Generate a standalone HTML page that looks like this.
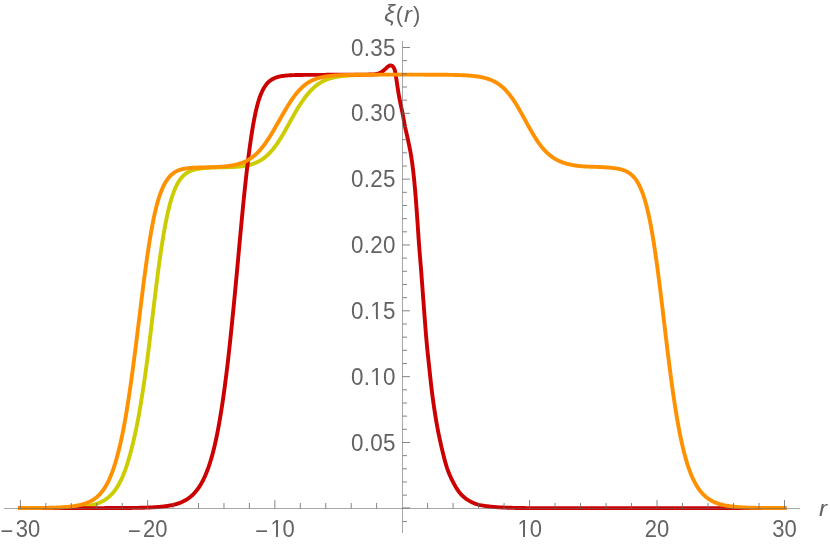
<!DOCTYPE html>
<html><head><meta charset="utf-8"><title>plot</title>
<style>
html,body{margin:0;padding:0;background:#fff;}
svg{display:block;}
text{font-family:"Liberation Sans",sans-serif;font-size:22px;fill:#636363;}
.it{font-style:italic;}
</style></head><body>
<svg width="830" height="544" viewBox="0 0 830 544">
<defs><clipPath id="c0"><path clip-rule="evenodd" d="M-20,-30H59.62V12H-20Z M16.22,-2.44H20.68V1.5H16.22Z M22.62,-2.44H26.96V1.5H22.62Z"/></clipPath><clipPath id="c1"><path clip-rule="evenodd" d="M-20,-30H44.47V12H-20Z M1.07,-2.44H5.53V1.5H1.07Z M7.48,-2.44H11.82V1.5H7.48Z"/></clipPath><clipPath id="c2"><path clip-rule="evenodd" d="M-20,-30H63.72V12H-20Z M20.02,-2.44H24.48V1.5H20.02Z M26.42,-2.44H30.76V1.5H26.42Z"/></clipPath><clipPath id="c3"><path clip-rule="evenodd" d="M-20,-30H63.72V12H-20Z M20.02,-2.44H24.48V1.5H20.02Z M26.42,-2.44H30.76V1.5H26.42Z"/></clipPath></defs>
<rect width="830" height="544" fill="#fff"/>
<g fill="none" stroke-width="3.9" stroke-linejoin="round" stroke-linecap="square">
<path stroke="#cccc00" d="M20.05,508.09 L20.55,508.09 L21.05,508.09 L21.55,508.09 L22.05,508.08 L22.55,508.08 L23.05,508.08 L23.55,508.08 L24.05,508.08 L24.55,508.08 L25.05,508.08 L25.55,508.08 L26.05,508.08 L26.54,508.08 L27.04,508.08 L27.54,508.08 L28.04,508.08 L28.54,508.07 L29.04,508.07 L29.54,508.07 L30.04,508.07 L30.54,508.07 L31.04,508.07 L31.54,508.07 L32.04,508.07 L32.54,508.07 L33.04,508.06 L33.54,508.06 L34.04,508.06 L34.54,508.06 L35.04,508.06 L35.54,508.06 L36.04,508.06 L36.54,508.05 L37.04,508.05 L37.54,508.05 L38.04,508.05 L38.54,508.05 L39.04,508.04 L39.53,508.04 L40.03,508.04 L40.53,508.04 L41.03,508.04 L41.53,508.03 L42.03,508.03 L42.53,508.03 L43.03,508.03 L43.53,508.02 L44.03,508.02 L44.53,508.02 L45.03,508.01 L45.53,508.01 L46.03,508.01 L46.53,508.00 L47.03,508.00 L47.53,508.00 L48.03,507.99 L48.53,507.99 L49.03,507.98 L49.53,507.98 L50.03,507.97 L50.53,507.97 L51.03,507.96 L51.53,507.96 L52.02,507.95 L52.52,507.95 L53.02,507.94 L53.52,507.94 L54.02,507.93 L54.52,507.92 L55.02,507.92 L55.52,507.91 L56.02,507.90 L56.52,507.89 L57.02,507.89 L57.52,507.88 L58.02,507.87 L58.52,507.86 L59.02,507.85 L59.52,507.84 L60.02,507.83 L60.52,507.82 L61.02,507.81 L61.52,507.80 L62.02,507.79 L62.52,507.78 L63.02,507.76 L63.52,507.75 L64.02,507.74 L64.52,507.72 L65.01,507.71 L65.51,507.69 L66.01,507.68 L66.51,507.66 L67.01,507.65 L67.51,507.63 L68.01,507.61 L68.51,507.59 L69.01,507.57 L69.51,507.55 L70.01,507.53 L70.51,507.51 L71.01,507.49 L71.51,507.46 L72.01,507.44 L72.51,507.41 L73.01,507.39 L73.51,507.36 L74.01,507.33 L74.51,507.30 L75.01,507.27 L75.51,507.24 L76.01,507.20 L76.51,507.17 L77.01,507.13 L77.50,507.10 L78.00,507.06 L78.50,507.02 L79.00,506.98 L79.50,506.93 L80.00,506.89 L80.50,506.84 L81.00,506.79 L81.50,506.74 L82.00,506.69 L82.50,506.64 L83.00,506.58 L83.50,506.52 L84.00,506.46 L84.50,506.40 L85.00,506.34 L85.50,506.27 L86.00,506.20 L86.50,506.12 L87.00,506.05 L87.50,505.97 L88.00,505.88 L88.50,505.80 L89.00,505.71 L89.50,505.62 L90.00,505.52 L90.49,505.42 L90.99,505.31 L91.49,505.20 L91.99,505.09 L92.49,504.97 L92.99,504.85 L93.49,504.72 L93.99,504.59 L94.49,504.45 L94.99,504.31 L95.49,504.16 L95.99,504.00 L96.49,503.84 L96.99,503.67 L97.49,503.50 L97.99,503.31 L98.49,503.13 L98.99,502.93 L99.49,502.73 L99.99,502.52 L100.49,502.30 L100.99,502.07 L101.49,501.83 L101.99,501.58 L102.49,501.32 L102.98,501.05 L103.48,500.77 L103.98,500.48 L104.48,500.17 L104.98,499.86 L105.48,499.53 L105.98,499.19 L106.48,498.83 L106.98,498.46 L107.48,498.08 L107.98,497.68 L108.48,497.26 L108.98,496.83 L109.48,496.38 L109.98,495.92 L110.48,495.44 L110.98,494.94 L111.48,494.42 L111.98,493.89 L112.48,493.33 L112.98,492.76 L113.48,492.16 L113.98,491.55 L114.48,490.91 L114.98,490.25 L115.48,489.57 L115.97,488.86 L116.47,488.13 L116.97,487.37 L117.47,486.58 L117.97,485.76 L118.47,484.91 L118.97,484.04 L119.47,483.13 L119.97,482.18 L120.47,481.20 L120.97,480.19 L121.47,479.14 L121.97,478.06 L122.47,476.93 L122.97,475.77 L123.47,474.56 L123.97,473.31 L124.47,472.02 L124.97,470.69 L125.47,469.31 L125.97,467.88 L126.47,466.40 L126.97,464.88 L127.47,463.30 L127.97,461.67 L128.46,460.00 L128.96,458.29 L129.46,456.54 L129.96,454.75 L130.46,452.93 L130.96,451.06 L131.46,449.16 L131.96,447.21 L132.46,445.21 L132.96,443.17 L133.46,441.09 L133.96,438.95 L134.46,436.76 L134.96,434.52 L135.46,432.22 L135.96,429.87 L136.46,427.45 L136.96,424.97 L137.46,422.43 L137.96,419.82 L138.46,417.14 L138.96,414.38 L139.46,411.55 L139.96,408.64 L140.46,405.66 L140.96,402.63 L141.45,399.56 L141.95,396.43 L142.45,393.25 L142.95,390.02 L143.45,386.74 L143.95,383.39 L144.45,379.99 L144.95,376.53 L145.45,373.01 L145.95,369.43 L146.45,365.78 L146.95,362.07 L147.45,358.29 L147.95,354.45 L148.45,350.53 L148.95,346.55 L149.45,342.50 L149.95,338.38 L150.45,334.21 L150.95,330.03 L151.45,325.83 L151.95,321.63 L152.45,317.44 L152.95,313.24 L153.45,309.06 L153.94,304.90 L154.44,300.76 L154.94,296.65 L155.44,292.57 L155.94,288.53 L156.44,284.53 L156.94,280.58 L157.44,276.68 L157.94,272.84 L158.44,269.06 L158.94,265.35 L159.44,261.70 L159.94,258.13 L160.44,254.63 L160.94,251.21 L161.44,247.87 L161.94,244.60 L162.44,241.42 L162.94,238.33 L163.44,235.32 L163.94,232.40 L164.44,229.56 L164.94,226.81 L165.44,224.15 L165.94,221.58 L166.44,219.10 L166.93,216.70 L167.43,214.39 L167.93,212.16 L168.43,210.02 L168.93,207.96 L169.43,205.98 L169.93,204.08 L170.43,202.26 L170.93,200.51 L171.43,198.84 L171.93,197.24 L172.43,195.71 L172.93,194.24 L173.43,192.85 L173.93,191.51 L174.43,190.24 L174.93,189.02 L175.43,187.87 L175.93,186.77 L176.43,185.72 L176.93,184.72 L177.43,183.78 L177.93,182.88 L178.43,182.03 L178.93,181.23 L179.42,180.46 L179.92,179.74 L180.42,179.05 L180.92,178.40 L181.42,177.79 L181.92,177.20 L182.42,176.65 L182.92,176.13 L183.42,175.64 L183.92,175.17 L184.42,174.73 L184.92,174.32 L185.42,173.93 L185.92,173.55 L186.42,173.20 L186.92,172.87 L187.42,172.56 L187.92,172.26 L188.42,171.99 L188.92,171.72 L189.42,171.47 L189.92,171.24 L190.42,171.01 L190.92,170.80 L191.42,170.61 L191.92,170.42 L192.41,170.25 L192.91,170.09 L193.41,169.93 L193.91,169.79 L194.41,169.65 L194.91,169.52 L195.41,169.40 L195.91,169.29 L196.41,169.18 L196.91,169.08 L197.41,168.99 L197.91,168.90 L198.41,168.81 L198.91,168.73 L199.41,168.66 L199.91,168.59 L200.41,168.52 L200.91,168.45 L201.41,168.39 L201.91,168.33 L202.41,168.27 L202.91,168.22 L203.41,168.17 L203.91,168.12 L204.41,168.08 L204.90,168.03 L205.40,167.99 L205.90,167.95 L206.40,167.92 L206.90,167.88 L207.40,167.85 L207.90,167.82 L208.40,167.78 L208.90,167.76 L209.40,167.73 L209.90,167.70 L210.40,167.67 L210.90,167.65 L211.40,167.63 L211.90,167.60 L212.40,167.58 L212.90,167.56 L213.40,167.54 L213.90,167.52 L214.40,167.50 L214.90,167.49 L215.40,167.47 L215.90,167.45 L216.40,167.44 L216.90,167.42 L217.40,167.41 L217.89,167.39 L218.39,167.38 L218.89,167.36 L219.39,167.35 L219.89,167.34 L220.39,167.32 L220.89,167.31 L221.39,167.30 L221.89,167.29 L222.39,167.28 L222.89,167.27 L223.39,167.26 L223.89,167.25 L224.39,167.24 L224.89,167.23 L225.39,167.22 L225.89,167.21 L226.39,167.20 L226.89,167.19 L227.39,167.18 L227.89,167.17 L228.39,167.16 L228.89,167.15 L229.39,167.14 L229.89,167.12 L230.38,167.11 L230.88,167.09 L231.38,167.08 L231.88,167.06 L232.38,167.04 L232.88,167.02 L233.38,167.00 L233.88,166.98 L234.38,166.95 L234.88,166.92 L235.38,166.89 L235.88,166.86 L236.38,166.83 L236.88,166.80 L237.38,166.76 L237.88,166.72 L238.38,166.68 L238.88,166.63 L239.38,166.58 L239.88,166.53 L240.38,166.48 L240.88,166.42 L241.38,166.36 L241.88,166.30 L242.38,166.23 L242.88,166.16 L243.37,166.08 L243.87,166.00 L244.37,165.92 L244.87,165.84 L245.37,165.75 L245.87,165.66 L246.37,165.57 L246.87,165.47 L247.37,165.36 L247.87,165.26 L248.37,165.14 L248.87,165.03 L249.37,164.91 L249.87,164.78 L250.37,164.65 L250.87,164.51 L251.37,164.36 L251.87,164.21 L252.37,164.06 L252.87,163.89 L253.37,163.72 L253.87,163.54 L254.37,163.36 L254.87,163.17 L255.37,162.97 L255.86,162.76 L256.36,162.54 L256.86,162.31 L257.36,162.07 L257.86,161.82 L258.36,161.57 L258.86,161.30 L259.36,161.02 L259.86,160.74 L260.36,160.44 L260.86,160.14 L261.36,159.82 L261.86,159.49 L262.36,159.16 L262.86,158.81 L263.36,158.45 L263.86,158.08 L264.36,157.70 L264.86,157.31 L265.36,156.91 L265.86,156.50 L266.36,156.07 L266.86,155.63 L267.36,155.18 L267.86,154.71 L268.36,154.23 L268.85,153.74 L269.35,153.23 L269.85,152.71 L270.35,152.17 L270.85,151.62 L271.35,151.06 L271.85,150.48 L272.35,149.90 L272.85,149.29 L273.35,148.68 L273.85,148.05 L274.35,147.41 L274.85,146.76 L275.35,146.10 L275.85,145.42 L276.35,144.73 L276.85,144.02 L277.35,143.30 L277.85,142.57 L278.35,141.82 L278.85,141.07 L279.35,140.30 L279.85,139.51 L280.35,138.72 L280.85,137.92 L281.34,137.10 L281.84,136.28 L282.34,135.44 L282.84,134.60 L283.34,133.74 L283.84,132.88 L284.34,132.01 L284.84,131.13 L285.34,130.25 L285.84,129.35 L286.34,128.46 L286.84,127.55 L287.34,126.64 L287.84,125.73 L288.34,124.82 L288.84,123.91 L289.34,123.00 L289.84,122.09 L290.34,121.18 L290.84,120.28 L291.34,119.39 L291.84,118.50 L292.34,117.62 L292.84,116.74 L293.34,115.86 L293.84,114.99 L294.33,114.11 L294.83,113.25 L295.33,112.39 L295.83,111.54 L296.33,110.69 L296.83,109.85 L297.33,109.02 L297.83,108.20 L298.33,107.39 L298.83,106.59 L299.33,105.80 L299.83,105.01 L300.33,104.24 L300.83,103.48 L301.33,102.72 L301.83,101.98 L302.33,101.25 L302.83,100.53 L303.33,99.82 L303.83,99.13 L304.33,98.44 L304.83,97.77 L305.33,97.10 L305.83,96.45 L306.33,95.81 L306.82,95.19 L307.32,94.57 L307.82,93.97 L308.32,93.38 L308.82,92.80 L309.32,92.23 L309.82,91.68 L310.32,91.13 L310.82,90.60 L311.32,90.08 L311.82,89.57 L312.32,89.08 L312.82,88.59 L313.32,88.12 L313.82,87.66 L314.32,87.21 L314.82,86.77 L315.32,86.35 L315.82,85.94 L316.32,85.54 L316.82,85.15 L317.32,84.78 L317.82,84.41 L318.32,84.06 L318.82,83.71 L319.32,83.38 L319.81,83.06 L320.31,82.75 L320.81,82.45 L321.31,82.16 L321.81,81.88 L322.31,81.61 L322.81,81.34 L323.31,81.09 L323.81,80.85 L324.31,80.61 L324.81,80.38 L325.31,80.16 L325.81,79.95 L326.31,79.74 L326.81,79.55 L327.31,79.36 L327.81,79.17 L328.31,79.00 L328.81,78.83 L329.31,78.66 L329.81,78.51 L330.31,78.36 L330.81,78.21 L331.31,78.07 L331.81,77.93 L332.30,77.80 L332.80,77.67 L333.30,77.55 L333.80,77.43 L334.30,77.32 L334.80,77.21 L335.30,77.10 L335.80,77.00 L336.30,76.90 L336.80,76.81 L337.30,76.72 L337.80,76.63 L338.30,76.55 L338.80,76.47 L339.30,76.39 L339.80,76.32 L340.30,76.25 L340.80,76.18 L341.30,76.12 L341.80,76.06 L342.30,76.00 L342.80,75.94 L343.30,75.89 L343.80,75.84 L344.30,75.79 L344.80,75.74 L345.29,75.70 L345.79,75.65 L346.29,75.61 L346.79,75.57 L347.29,75.53 L347.79,75.50 L348.29,75.46 L348.79,75.43 L349.29,75.40 L349.79,75.37 L350.29,75.34 L350.79,75.31 L351.29,75.29 L351.79,75.26 L352.29,75.24 L352.79,75.21 L353.29,75.19 L353.79,75.17 L354.29,75.15 L354.79,75.13 L355.29,75.11 L355.79,75.09 L356.29,75.08 L356.79,75.06 L357.29,75.04 L357.78,75.03 L358.28,75.01 L358.78,75.00 L359.28,74.98 L359.78,74.97"/>
<path stroke="#cc0000" d="M20.05,508.10 L20.55,508.10 L21.05,508.10 L21.55,508.10 L22.05,508.10 L22.55,508.10 L23.05,508.10 L23.55,508.10 L24.05,508.10 L24.55,508.10 L25.05,508.10 L25.55,508.10 L26.05,508.10 L26.54,508.10 L27.04,508.10 L27.54,508.10 L28.04,508.10 L28.54,508.10 L29.04,508.10 L29.54,508.10 L30.04,508.10 L30.54,508.10 L31.04,508.10 L31.54,508.10 L32.04,508.10 L32.54,508.10 L33.04,508.10 L33.54,508.10 L34.04,508.10 L34.54,508.10 L35.04,508.10 L35.54,508.10 L36.04,508.10 L36.54,508.10 L37.04,508.10 L37.54,508.10 L38.04,508.10 L38.54,508.10 L39.04,508.10 L39.53,508.10 L40.03,508.10 L40.53,508.10 L41.03,508.10 L41.53,508.10 L42.03,508.10 L42.53,508.10 L43.03,508.10 L43.53,508.10 L44.03,508.10 L44.53,508.10 L45.03,508.10 L45.53,508.10 L46.03,508.10 L46.53,508.10 L47.03,508.10 L47.53,508.10 L48.03,508.10 L48.53,508.10 L49.03,508.10 L49.53,508.10 L50.03,508.10 L50.53,508.10 L51.03,508.10 L51.53,508.10 L52.02,508.10 L52.52,508.10 L53.02,508.10 L53.52,508.10 L54.02,508.10 L54.52,508.10 L55.02,508.10 L55.52,508.10 L56.02,508.10 L56.52,508.10 L57.02,508.10 L57.52,508.10 L58.02,508.10 L58.52,508.10 L59.02,508.10 L59.52,508.10 L60.02,508.10 L60.52,508.10 L61.02,508.10 L61.52,508.10 L62.02,508.10 L62.52,508.10 L63.02,508.10 L63.52,508.10 L64.02,508.10 L64.52,508.10 L65.01,508.10 L65.51,508.10 L66.01,508.10 L66.51,508.10 L67.01,508.10 L67.51,508.10 L68.01,508.10 L68.51,508.10 L69.01,508.10 L69.51,508.10 L70.01,508.10 L70.51,508.10 L71.01,508.10 L71.51,508.10 L72.01,508.10 L72.51,508.10 L73.01,508.10 L73.51,508.10 L74.01,508.10 L74.51,508.10 L75.01,508.10 L75.51,508.10 L76.01,508.10 L76.51,508.10 L77.01,508.10 L77.50,508.10 L78.00,508.10 L78.50,508.10 L79.00,508.10 L79.50,508.10 L80.00,508.10 L80.50,508.10 L81.00,508.10 L81.50,508.10 L82.00,508.10 L82.50,508.09 L83.00,508.09 L83.50,508.09 L84.00,508.09 L84.50,508.09 L85.00,508.09 L85.50,508.09 L86.00,508.09 L86.50,508.09 L87.00,508.09 L87.50,508.09 L88.00,508.09 L88.50,508.09 L89.00,508.09 L89.50,508.09 L90.00,508.09 L90.49,508.09 L90.99,508.09 L91.49,508.09 L91.99,508.09 L92.49,508.09 L92.99,508.09 L93.49,508.09 L93.99,508.09 L94.49,508.09 L94.99,508.09 L95.49,508.09 L95.99,508.09 L96.49,508.09 L96.99,508.09 L97.49,508.09 L97.99,508.08 L98.49,508.08 L98.99,508.08 L99.49,508.08 L99.99,508.08 L100.49,508.08 L100.99,508.08 L101.49,508.08 L101.99,508.08 L102.49,508.08 L102.98,508.08 L103.48,508.08 L103.98,508.08 L104.48,508.08 L104.98,508.07 L105.48,508.07 L105.98,508.07 L106.48,508.07 L106.98,508.07 L107.48,508.07 L107.98,508.07 L108.48,508.07 L108.98,508.07 L109.48,508.07 L109.98,508.06 L110.48,508.06 L110.98,508.06 L111.48,508.06 L111.98,508.06 L112.48,508.06 L112.98,508.06 L113.48,508.05 L113.98,508.05 L114.48,508.05 L114.98,508.05 L115.48,508.05 L115.97,508.04 L116.47,508.04 L116.97,508.04 L117.47,508.04 L117.97,508.04 L118.47,508.03 L118.97,508.03 L119.47,508.03 L119.97,508.03 L120.47,508.02 L120.97,508.02 L121.47,508.02 L121.97,508.02 L122.47,508.01 L122.97,508.01 L123.47,508.01 L123.97,508.00 L124.47,508.00 L124.97,507.99 L125.47,507.99 L125.97,507.99 L126.47,507.98 L126.97,507.98 L127.47,507.97 L127.97,507.97 L128.46,507.97 L128.96,507.96 L129.46,507.96 L129.96,507.95 L130.46,507.94 L130.96,507.94 L131.46,507.93 L131.96,507.93 L132.46,507.92 L132.96,507.91 L133.46,507.91 L133.96,507.90 L134.46,507.89 L134.96,507.89 L135.46,507.88 L135.96,507.87 L136.46,507.86 L136.96,507.85 L137.46,507.84 L137.96,507.84 L138.46,507.83 L138.96,507.82 L139.46,507.81 L139.96,507.80 L140.46,507.78 L140.96,507.77 L141.45,507.76 L141.95,507.75 L142.45,507.74 L142.95,507.72 L143.45,507.71 L143.95,507.70 L144.45,507.68 L144.95,507.67 L145.45,507.65 L145.95,507.63 L146.45,507.62 L146.95,507.60 L147.45,507.58 L147.95,507.56 L148.45,507.54 L148.95,507.52 L149.45,507.50 L149.95,507.48 L150.45,507.46 L150.95,507.43 L151.45,507.41 L151.95,507.39 L152.45,507.36 L152.95,507.33 L153.45,507.31 L153.94,507.28 L154.44,507.25 L154.94,507.22 L155.44,507.18 L155.94,507.15 L156.44,507.12 L156.94,507.08 L157.44,507.04 L157.94,507.01 L158.44,506.97 L158.94,506.93 L159.44,506.88 L159.94,506.84 L160.44,506.79 L160.94,506.75 L161.44,506.70 L161.94,506.65 L162.44,506.59 L162.94,506.54 L163.44,506.48 L163.94,506.43 L164.44,506.36 L164.94,506.30 L165.44,506.24 L165.94,506.17 L166.44,506.10 L166.93,506.03 L167.43,505.95 L167.93,505.88 L168.43,505.79 L168.93,505.71 L169.43,505.63 L169.93,505.54 L170.43,505.44 L170.93,505.35 L171.43,505.25 L171.93,505.14 L172.43,505.04 L172.93,504.92 L173.43,504.81 L173.93,504.69 L174.43,504.56 L174.93,504.43 L175.43,504.30 L175.93,504.16 L176.43,504.01 L176.93,503.86 L177.43,503.71 L177.93,503.55 L178.43,503.38 L178.93,503.21 L179.42,503.02 L179.92,502.84 L180.42,502.64 L180.92,502.44 L181.42,502.23 L181.92,502.01 L182.42,501.79 L182.92,501.56 L183.42,501.31 L183.92,501.06 L184.42,500.80 L184.92,500.53 L185.42,500.25 L185.92,499.96 L186.42,499.66 L186.92,499.35 L187.42,499.02 L187.92,498.69 L188.42,498.34 L188.92,497.98 L189.42,497.60 L189.92,497.21 L190.42,496.81 L190.92,496.40 L191.42,495.96 L191.92,495.52 L192.41,495.05 L192.91,494.57 L193.41,494.08 L193.91,493.56 L194.41,493.03 L194.91,492.48 L195.41,491.91 L195.91,491.32 L196.41,490.71 L196.91,490.07 L197.41,489.42 L197.91,488.74 L198.41,488.04 L198.91,487.31 L199.41,486.56 L199.91,485.78 L200.41,484.98 L200.91,484.15 L201.41,483.29 L201.91,482.40 L202.41,481.48 L202.91,480.52 L203.41,479.53 L203.91,478.51 L204.41,477.45 L204.90,476.36 L205.40,475.22 L205.90,474.05 L206.40,472.84 L206.90,471.58 L207.40,470.28 L207.90,468.94 L208.40,467.55 L208.90,466.11 L209.40,464.62 L209.90,463.08 L210.40,461.49 L210.90,459.85 L211.40,458.15 L211.90,456.39 L212.40,454.57 L212.90,452.70 L213.40,450.76 L213.90,448.75 L214.40,446.68 L214.90,444.55 L215.40,442.34 L215.90,440.06 L216.40,437.71 L216.90,435.28 L217.40,432.77 L217.89,430.19 L218.39,427.53 L218.89,424.79 L219.39,421.98 L219.89,419.09 L220.39,416.12 L220.89,413.08 L221.39,409.95 L221.89,406.74 L222.39,403.44 L222.89,400.07 L223.39,396.60 L223.89,393.05 L224.39,389.41 L224.89,385.68 L225.39,381.87 L225.89,377.96 L226.39,373.96 L226.89,369.87 L227.39,365.69 L227.89,361.42 L228.39,357.06 L228.89,352.61 L229.39,348.07 L229.89,343.44 L230.38,338.74 L230.88,333.97 L231.38,329.14 L231.88,324.25 L232.38,319.30 L232.88,314.30 L233.38,309.24 L233.88,304.13 L234.38,298.97 L234.88,293.76 L235.38,288.49 L235.88,283.19 L236.38,277.84 L236.88,272.45 L237.38,267.03 L237.88,261.58 L238.38,256.11 L238.88,250.64 L239.38,245.20 L239.88,239.78 L240.38,234.39 L240.88,229.05 L241.38,223.74 L241.88,218.49 L242.38,213.30 L242.88,208.18 L243.37,203.13 L243.87,198.15 L244.37,193.26 L244.87,188.46 L245.37,183.75 L245.87,179.14 L246.37,174.64 L246.87,170.24 L247.37,165.95 L247.87,161.78 L248.37,157.72 L248.87,153.78 L249.37,149.96 L249.87,146.26 L250.37,142.68 L250.87,139.22 L251.37,135.87 L251.87,132.65 L252.37,129.55 L252.87,126.57 L253.37,123.71 L253.87,120.98 L254.37,118.36 L254.87,115.87 L255.37,113.50 L255.86,111.24 L256.36,109.09 L256.86,107.06 L257.36,105.13 L257.86,103.31 L258.36,101.58 L258.86,99.96 L259.36,98.42 L259.86,96.97 L260.36,95.61 L260.86,94.33 L261.36,93.13 L261.86,92.00 L262.36,90.94 L262.86,89.94 L263.36,89.00 L263.86,88.11 L264.36,87.28 L264.86,86.50 L265.36,85.76 L265.86,85.07 L266.36,84.42 L266.86,83.82 L267.36,83.24 L267.86,82.71 L268.36,82.21 L268.85,81.74 L269.35,81.30 L269.85,80.89 L270.35,80.50 L270.85,80.14 L271.35,79.80 L271.85,79.49 L272.35,79.19 L272.85,78.92 L273.35,78.66 L273.85,78.42 L274.35,78.19 L274.85,77.98 L275.35,77.78 L275.85,77.60 L276.35,77.43 L276.85,77.26 L277.35,77.11 L277.85,76.97 L278.35,76.84 L278.85,76.71 L279.35,76.59 L279.85,76.48 L280.35,76.38 L280.85,76.28 L281.34,76.19 L281.84,76.11 L282.34,76.03 L282.84,75.95 L283.34,75.88 L283.84,75.82 L284.34,75.76 L284.84,75.70 L285.34,75.64 L285.84,75.59 L286.34,75.55 L286.84,75.50 L287.34,75.46 L287.84,75.42 L288.34,75.39 L288.84,75.35 L289.34,75.32 L289.84,75.29 L290.34,75.26 L290.84,75.24 L291.34,75.21 L291.84,75.19 L292.34,75.17 L292.84,75.15 L293.34,75.13 L293.84,75.11 L294.33,75.09 L294.83,75.08 L295.33,75.06 L295.83,75.05 L296.33,75.04 L296.83,75.03 L297.33,75.01 L297.83,75.00 L298.33,74.99 L298.83,74.99 L299.33,74.98 L299.83,74.97 L300.33,74.96 L300.83,74.95 L301.33,74.95 L301.83,74.94 L302.33,74.94 L302.83,74.93 L303.33,74.92 L303.83,74.92 L304.33,74.92 L304.83,74.91 L305.33,74.91 L305.83,74.90 L306.33,74.90 L306.82,74.90 L307.32,74.89 L307.82,74.89 L308.32,74.89 L308.82,74.89 L309.32,74.88 L309.82,74.88 L310.32,74.88 L310.82,74.88 L311.32,74.88 L311.82,74.87 L312.32,74.87 L312.82,74.87 L313.32,74.87 L313.82,74.87 L314.32,74.87 L314.82,74.87 L315.32,74.87 L315.82,74.86 L316.32,74.86 L316.82,74.86 L317.32,74.86 L317.82,74.86 L318.32,74.86 L318.82,74.86 L319.32,74.86 L319.81,74.86 L320.31,74.86 L320.81,74.86 L321.31,74.86 L321.81,74.85 L322.31,74.85 L322.81,74.85 L323.31,74.84 L323.81,74.84 L324.31,74.84 L324.81,74.83 L325.31,74.83 L325.81,74.82 L326.31,74.81 L326.81,74.81 L327.31,74.80 L327.81,74.80 L328.31,74.79 L328.81,74.78 L329.31,74.77 L329.81,74.77 L330.31,74.76 L330.81,74.75 L331.31,74.74 L331.81,74.74 L332.30,74.73 L332.80,74.72 L333.30,74.71 L333.80,74.71 L334.30,74.70 L334.80,74.69 L335.30,74.68 L335.80,74.68 L336.30,74.67 L336.80,74.66 L337.30,74.66 L337.80,74.65 L338.30,74.64 L338.80,74.64 L339.30,74.63 L339.80,74.63 L340.30,74.62 L340.80,74.62 L341.30,74.62 L341.80,74.61 L342.30,74.61 L342.80,74.61 L343.30,74.60 L343.80,74.60 L344.30,74.60 L344.80,74.60 L345.29,74.60 L345.79,74.60 L346.29,74.60 L346.79,74.60 L347.29,74.60 L347.79,74.60 L348.29,74.60 L348.79,74.60 L349.29,74.60 L349.79,74.60 L350.29,74.60 L350.79,74.60 L351.29,74.60 L351.79,74.60 L352.29,74.60 L352.79,74.60 L353.29,74.60 L353.79,74.60 L354.29,74.60 L354.79,74.60 L355.29,74.60 L355.79,74.60 L356.29,74.60 L356.79,74.60 L357.29,74.60 L357.78,74.60 L358.28,74.60 L358.78,74.60 L359.28,74.60 L359.78,74.60 L360.28,74.60 L360.78,74.60 L361.28,74.60 L361.78,74.60 L362.28,74.60 L362.78,74.60 L363.28,74.60 L363.78,74.60 L364.28,74.60 L364.78,74.60 L365.28,74.60 L365.78,74.60 L366.00,74.60 L367.42,74.59 L368.85,74.56 L370.27,74.52 L371.69,74.47 L373.12,74.38 L374.54,74.25 L375.94,74.06 L377.36,73.76 L378.74,73.35 L380.05,72.88 L381.27,72.25 L382.44,71.42 L383.56,70.49 L384.68,69.56 L385.77,68.62 L386.81,67.55 L387.87,66.57 L389.03,65.89 L390.43,65.46 L391.75,65.60 L392.96,66.56 L393.79,67.65 L394.38,68.94 L394.83,70.36 L395.18,71.74 L395.46,73.12 L395.70,74.52 L395.91,75.94 L396.11,77.36 L396.31,78.78 L396.53,80.19 L396.75,81.59 L396.96,83.00 L397.17,84.41 L397.38,85.82 L397.58,87.23 L397.79,88.64 L398.00,90.04 L398.22,91.45 L398.44,92.86 L398.67,94.26 L398.92,95.66 L399.18,97.06 L399.45,98.46 L399.73,99.85 L400.02,101.25 L400.31,102.64 L400.60,104.03 L400.89,105.43 L401.18,106.82 L401.49,108.21 L401.79,109.60 L402.09,111.00 L402.38,112.39 L402.65,113.78 L402.92,115.18 L403.18,116.58 L403.43,117.98 L403.68,119.39 L403.92,120.79 L404.18,122.19 L404.43,123.59 L404.70,124.99 L404.98,126.38 L405.27,127.78 L405.57,129.17 L405.88,130.56 L406.19,131.95 L406.51,133.33 L406.83,134.72 L407.15,136.11 L407.46,137.50 L407.76,138.89 L408.06,140.28 L408.35,141.67 L408.65,143.07 L408.95,144.46 L409.24,145.85 L409.53,147.25 L409.82,148.64 L410.10,150.04 L410.37,151.44 L410.63,152.84 L410.87,154.24 L411.10,155.64 L411.33,157.04 L411.54,158.45 L411.75,159.86 L411.96,161.27 L412.16,162.68 L412.35,164.09 L412.53,165.50 L412.71,166.92 L412.89,168.33 L413.06,169.74 L413.22,171.15 L413.38,172.57 L413.54,173.98 L413.69,175.40 L413.84,176.81 L413.99,178.23 L414.13,179.65 L414.27,181.06 L414.41,182.48 L414.54,183.90 L414.67,185.32 L414.80,186.73 L414.93,188.15 L415.05,189.57 L415.18,190.99 L415.30,192.41 L415.42,193.82 L415.53,195.24 L415.65,196.66 L415.76,198.08 L415.87,199.50 L415.98,200.92 L416.09,202.34 L416.19,203.76 L416.30,205.18 L416.40,206.60 L416.51,208.02 L416.61,209.44 L416.71,210.86 L416.82,212.28 L416.92,213.70 L417.02,215.12 L417.12,216.54 L417.23,217.96 L417.33,219.38 L417.42,220.80 L417.52,222.22 L417.62,223.64 L417.71,225.06 L417.81,226.48 L417.90,227.90 L417.99,229.32 L418.09,230.74 L418.18,232.16 L418.27,233.58 L418.37,235.00 L418.47,236.42 L418.56,237.84 L418.66,239.26 L418.76,240.68 L418.86,242.10 L418.96,243.52 L419.07,244.94 L419.18,246.36 L419.29,247.78 L419.40,249.20 L419.51,250.62 L419.63,252.04 L419.74,253.46 L419.86,254.87 L419.98,256.29 L420.09,257.71 L420.21,259.13 L420.33,260.55 L420.44,261.97 L420.56,263.39 L420.68,264.81 L420.79,266.22 L420.91,267.64 L421.02,269.06 L421.13,270.48 L421.24,271.90 L421.35,273.32 L421.46,274.74 L421.56,276.16 L421.67,277.58 L421.78,279.00 L421.88,280.42 L421.99,281.84 L422.09,283.26 L422.20,284.68 L422.30,286.10 L422.41,287.52 L422.51,288.94 L422.62,290.35 L422.72,291.77 L422.83,293.19 L422.93,294.61 L423.03,296.03 L423.14,297.45 L423.24,298.87 L423.35,300.29 L423.46,301.71 L423.56,303.13 L423.67,304.55 L423.78,305.97 L423.88,307.39 L423.99,308.81 L424.10,310.23 L424.21,311.65 L424.32,313.07 L424.43,314.49 L424.54,315.91 L424.64,317.33 L424.75,318.75 L424.86,320.16 L424.97,321.58 L425.08,323.00 L425.18,324.42 L425.29,325.84 L425.40,327.26 L425.51,328.68 L425.63,330.10 L425.74,331.52 L425.85,332.94 L425.97,334.36 L426.09,335.78 L426.20,337.19 L426.32,338.61 L426.45,340.03 L426.57,341.45 L426.70,342.87 L426.83,344.28 L426.96,345.70 L427.09,347.12 L427.23,348.53 L427.37,349.95 L427.52,351.37 L427.66,352.78 L427.81,354.20 L427.96,355.61 L428.11,357.03 L428.27,358.45 L428.42,359.86 L428.58,361.28 L428.73,362.69 L428.88,364.11 L429.04,365.52 L429.19,366.94 L429.34,368.35 L429.49,369.77 L429.65,371.18 L429.80,372.60 L429.95,374.02 L430.10,375.43 L430.25,376.85 L430.41,378.26 L430.56,379.68 L430.71,381.09 L430.87,382.51 L431.03,383.92 L431.19,385.34 L431.35,386.75 L431.52,388.17 L431.68,389.58 L431.86,390.99 L432.03,392.40 L432.21,393.82 L432.39,395.23 L432.57,396.64 L432.76,398.05 L432.95,399.46 L433.14,400.87 L433.34,402.28 L433.54,403.69 L433.74,405.10 L433.95,406.51 L434.15,407.92 L434.37,409.33 L434.58,410.73 L434.80,412.14 L435.02,413.55 L435.24,414.96 L435.47,416.36 L435.70,417.77 L435.93,419.17 L436.17,420.57 L436.41,421.98 L436.66,423.38 L436.90,424.78 L437.15,426.18 L437.41,427.58 L437.67,428.98 L437.93,430.38 L438.20,431.77 L438.48,433.17 L438.76,434.57 L439.05,435.96 L439.35,437.35 L439.65,438.75 L439.95,440.14 L440.26,441.53 L440.57,442.92 L440.88,444.31 L441.20,445.70 L441.53,447.08 L441.85,448.47 L442.18,449.85 L442.51,451.23 L442.85,452.62 L443.18,454.01 L443.52,455.40 L443.86,456.78 L444.22,458.17 L444.58,459.55 L444.94,460.92 L445.32,462.30 L445.72,463.67 L446.12,465.03 L446.54,466.38 L446.98,467.73 L447.43,469.07 L447.91,470.40 L448.41,471.74 L448.94,473.07 L449.48,474.39 L450.05,475.71 L450.63,477.01 L451.23,478.31 L451.84,479.60 L452.47,480.87 L453.11,482.13 L453.77,483.39 L454.45,484.65 L455.15,485.91 L455.88,487.16 L456.63,488.40 L457.41,489.60 L458.21,490.78 L459.05,491.91 L459.92,492.99 L460.84,494.04 L461.82,495.07 L462.85,496.08 L463.93,497.06 L465.05,497.99 L466.19,498.86 L467.36,499.67 L468.54,500.40 L469.75,501.10 L471.01,501.78 L472.31,502.42 L473.63,503.02 L474.97,503.57 L476.32,504.05 L477.67,504.46 L479.03,504.80 L480.40,505.11 L481.79,505.39 L483.20,505.65 L484.61,505.88 L486.03,506.09 L487.45,506.29 L488.87,506.46 L490.29,506.61 L491.70,506.75 L493.12,506.88 L494.54,507.01 L495.96,507.12 L497.38,507.23 L498.80,507.33 L500.22,507.42 L501.64,507.50 L503.07,507.56 L504.49,507.61 L505.91,507.65 L507.33,507.70 L508.75,507.74 L510.18,507.78 L511.60,507.82 L513.02,507.86 L514.45,507.89 L515.87,507.93 L517.29,507.96 L518.72,507.99 L520.14,508.01 L521.56,508.03 L522.99,508.05 L524.41,508.07 L525.84,508.08 L527.26,508.09 L528.68,508.10 L530.11,508.10 L531.53,508.10 L532.95,508.10 L534.38,508.10 L535.80,508.10 L537.22,508.10 L538.65,508.10 L540.07,508.10 L541.49,508.10 L542.92,508.10 L544.34,508.10 L545.76,508.10 L547.19,508.10 L548.61,508.10 L550.03,508.10 L551.46,508.10 L552.88,508.10 L554.31,508.10 L555.73,508.10 L557.15,508.10 L558.58,508.10 L560.00,508.10 L561.00,508.10 L565.56,508.10 L570.12,508.10 L574.68,508.10 L579.24,508.10 L583.80,508.10 L588.36,508.10 L592.92,508.10 L597.48,508.10 L602.04,508.10 L606.60,508.10 L611.16,508.10 L615.72,508.10 L620.28,508.10 L624.84,508.10 L629.40,508.10 L633.96,508.10 L638.52,508.10 L643.08,508.10 L647.64,508.10 L652.20,508.10 L656.76,508.10 L661.32,508.10 L665.88,508.10 L670.44,508.10 L675.01,508.10 L679.57,508.10 L684.13,508.10 L688.69,508.10 L693.25,508.10 L697.81,508.10 L702.37,508.10 L706.93,508.10 L711.49,508.10 L716.05,508.10 L720.61,508.10 L725.17,508.10 L729.73,508.10 L734.29,508.10 L738.85,508.10 L743.41,508.10 L747.97,508.10 L752.53,508.10 L757.09,508.10 L761.65,508.10 L766.21,508.10 L770.77,508.10 L775.33,508.10 L779.89,508.10 L784.45,508.10"/>
<path stroke="#ff9100" d="M20.05,508.07 L20.55,508.06 L21.05,508.06 L21.55,508.06 L22.05,508.06 L22.55,508.06 L23.05,508.06 L23.55,508.05 L24.05,508.05 L24.55,508.05 L25.05,508.05 L25.55,508.05 L26.05,508.05 L26.54,508.04 L27.04,508.04 L27.54,508.04 L28.04,508.04 L28.54,508.03 L29.04,508.03 L29.54,508.03 L30.04,508.03 L30.54,508.02 L31.04,508.02 L31.54,508.02 L32.04,508.01 L32.54,508.01 L33.04,508.01 L33.54,508.00 L34.04,508.00 L34.54,508.00 L35.04,507.99 L35.54,507.99 L36.04,507.98 L36.54,507.98 L37.04,507.98 L37.54,507.97 L38.04,507.97 L38.54,507.96 L39.04,507.96 L39.53,507.95 L40.03,507.94 L40.53,507.94 L41.03,507.93 L41.53,507.93 L42.03,507.92 L42.53,507.91 L43.03,507.90 L43.53,507.90 L44.03,507.89 L44.53,507.88 L45.03,507.87 L45.53,507.86 L46.03,507.86 L46.53,507.85 L47.03,507.84 L47.53,507.83 L48.03,507.82 L48.53,507.81 L49.03,507.79 L49.53,507.78 L50.03,507.77 L50.53,507.76 L51.03,507.74 L51.53,507.73 L52.02,507.72 L52.52,507.70 L53.02,507.69 L53.52,507.67 L54.02,507.65 L54.52,507.64 L55.02,507.62 L55.52,507.60 L56.02,507.58 L56.52,507.56 L57.02,507.54 L57.52,507.52 L58.02,507.50 L58.52,507.48 L59.02,507.45 L59.52,507.43 L60.02,507.40 L60.52,507.38 L61.02,507.35 L61.52,507.32 L62.02,507.29 L62.52,507.26 L63.02,507.23 L63.52,507.19 L64.02,507.16 L64.52,507.12 L65.01,507.09 L65.51,507.05 L66.01,507.01 L66.51,506.96 L67.01,506.92 L67.51,506.88 L68.01,506.83 L68.51,506.78 L69.01,506.73 L69.51,506.68 L70.01,506.62 L70.51,506.57 L71.01,506.51 L71.51,506.45 L72.01,506.39 L72.51,506.32 L73.01,506.25 L73.51,506.18 L74.01,506.11 L74.51,506.03 L75.01,505.95 L75.51,505.87 L76.01,505.79 L76.51,505.70 L77.01,505.61 L77.50,505.51 L78.00,505.41 L78.50,505.31 L79.00,505.21 L79.50,505.10 L80.00,504.98 L80.50,504.86 L81.00,504.74 L81.50,504.61 L82.00,504.48 L82.50,504.34 L83.00,504.20 L83.50,504.05 L84.00,503.89 L84.50,503.73 L85.00,503.57 L85.50,503.39 L86.00,503.21 L86.50,503.03 L87.00,502.84 L87.50,502.64 L88.00,502.43 L88.50,502.21 L89.00,501.99 L89.50,501.75 L90.00,501.51 L90.49,501.26 L90.99,501.00 L91.49,500.73 L91.99,500.44 L92.49,500.15 L92.99,499.84 L93.49,499.52 L93.99,499.19 L94.49,498.84 L94.99,498.48 L95.49,498.11 L95.99,497.72 L96.49,497.31 L96.99,496.89 L97.49,496.45 L97.99,495.99 L98.49,495.52 L98.99,495.03 L99.49,494.51 L99.99,493.98 L100.49,493.43 L100.99,492.85 L101.49,492.25 L101.99,491.63 L102.49,490.99 L102.98,490.32 L103.48,489.63 L103.98,488.91 L104.48,488.17 L104.98,487.39 L105.48,486.59 L105.98,485.75 L106.48,484.88 L106.98,483.98 L107.48,483.04 L107.98,482.06 L108.48,481.04 L108.98,479.99 L109.48,478.89 L109.98,477.76 L110.48,476.58 L110.98,475.36 L111.48,474.10 L111.98,472.79 L112.48,471.44 L112.98,470.04 L113.48,468.59 L113.98,467.10 L114.48,465.56 L114.98,463.97 L115.48,462.34 L115.97,460.66 L116.47,458.92 L116.97,457.15 L117.47,455.32 L117.97,453.43 L118.47,451.50 L118.97,449.50 L119.47,447.45 L119.97,445.34 L120.47,443.17 L120.97,440.94 L121.47,438.64 L121.97,436.29 L122.47,433.86 L122.97,431.38 L123.47,428.83 L123.97,426.21 L124.47,423.52 L124.97,420.77 L125.47,417.95 L125.97,415.06 L126.47,412.10 L126.97,409.07 L127.47,405.96 L127.97,402.79 L128.46,399.56 L128.96,396.26 L129.46,392.90 L129.96,389.49 L130.46,386.02 L130.96,382.50 L131.46,378.93 L131.96,375.30 L132.46,371.62 L132.96,367.90 L133.46,364.13 L133.96,360.31 L134.46,356.46 L134.96,352.57 L135.46,348.64 L135.96,344.69 L136.46,340.70 L136.96,336.69 L137.46,332.66 L137.96,328.61 L138.46,324.54 L138.96,320.47 L139.46,316.39 L139.96,312.31 L140.46,308.24 L140.96,304.19 L141.45,300.16 L141.95,296.16 L142.45,292.20 L142.95,288.27 L143.45,284.38 L143.95,280.54 L144.45,276.74 L144.95,272.99 L145.45,269.30 L145.95,265.66 L146.45,262.08 L146.95,258.56 L147.45,255.11 L147.95,251.73 L148.45,248.42 L148.95,245.17 L149.45,242.00 L149.95,238.90 L150.45,235.89 L150.95,232.96 L151.45,230.12 L151.95,227.37 L152.45,224.70 L152.95,222.13 L153.45,219.64 L153.94,217.23 L154.44,214.92 L154.94,212.69 L155.44,210.54 L155.94,208.48 L156.44,206.49 L156.94,204.59 L157.44,202.76 L157.94,201.01 L158.44,199.33 L158.94,197.72 L159.44,196.18 L159.94,194.71 L160.44,193.31 L160.94,191.96 L161.44,190.68 L161.94,189.46 L162.44,188.29 L162.94,187.18 L163.44,186.12 L163.94,185.11 L164.44,184.15 L164.94,183.24 L165.44,182.37 L165.94,181.54 L166.44,180.76 L166.93,180.01 L167.43,179.30 L167.93,178.63 L168.43,177.99 L168.93,177.38 L169.43,176.80 L169.93,176.26 L170.43,175.74 L170.93,175.25 L171.43,174.78 L171.93,174.34 L172.43,173.92 L172.93,173.52 L173.43,173.14 L173.93,172.79 L174.43,172.45 L174.93,172.13 L175.43,171.83 L175.93,171.54 L176.43,171.27 L176.93,171.02 L177.43,170.79 L177.93,170.57 L178.43,170.36 L178.93,170.17 L179.42,169.99 L179.92,169.82 L180.42,169.66 L180.92,169.51 L181.42,169.37 L181.92,169.24 L182.42,169.12 L182.92,169.01 L183.42,168.90 L183.92,168.80 L184.42,168.71 L184.92,168.63 L185.42,168.55 L185.92,168.47 L186.42,168.40 L186.92,168.34 L187.42,168.27 L187.92,168.22 L188.42,168.16 L188.92,168.11 L189.42,168.06 L189.92,168.01 L190.42,167.97 L190.92,167.93 L191.42,167.89 L191.92,167.85 L192.41,167.82 L192.91,167.78 L193.41,167.75 L193.91,167.73 L194.41,167.70 L194.91,167.68 L195.41,167.65 L195.91,167.63 L196.41,167.61 L196.91,167.59 L197.41,167.58 L197.91,167.56 L198.41,167.54 L198.91,167.53 L199.41,167.51 L199.91,167.49 L200.41,167.48 L200.91,167.47 L201.41,167.45 L201.91,167.44 L202.41,167.43 L202.91,167.41 L203.41,167.40 L203.91,167.39 L204.41,167.38 L204.90,167.36 L205.40,167.35 L205.90,167.34 L206.40,167.33 L206.90,167.32 L207.40,167.30 L207.90,167.29 L208.40,167.28 L208.90,167.26 L209.40,167.25 L209.90,167.24 L210.40,167.22 L210.90,167.21 L211.40,167.19 L211.90,167.17 L212.40,167.16 L212.90,167.14 L213.40,167.12 L213.90,167.10 L214.40,167.08 L214.90,167.06 L215.40,167.04 L215.90,167.02 L216.40,166.99 L216.90,166.97 L217.40,166.94 L217.89,166.92 L218.39,166.89 L218.89,166.86 L219.39,166.83 L219.89,166.80 L220.39,166.76 L220.89,166.73 L221.39,166.69 L221.89,166.66 L222.39,166.62 L222.89,166.58 L223.39,166.53 L223.89,166.49 L224.39,166.44 L224.89,166.40 L225.39,166.35 L225.89,166.30 L226.39,166.24 L226.89,166.19 L227.39,166.13 L227.89,166.07 L228.39,166.00 L228.89,165.94 L229.39,165.87 L229.89,165.80 L230.38,165.72 L230.88,165.65 L231.38,165.57 L231.88,165.48 L232.38,165.39 L232.88,165.30 L233.38,165.21 L233.88,165.11 L234.38,165.01 L234.88,164.90 L235.38,164.79 L235.88,164.68 L236.38,164.56 L236.88,164.43 L237.38,164.31 L237.88,164.17 L238.38,164.03 L238.88,163.89 L239.38,163.74 L239.88,163.58 L240.38,163.42 L240.88,163.25 L241.38,163.08 L241.88,162.90 L242.38,162.71 L242.88,162.52 L243.37,162.32 L243.87,162.11 L244.37,161.89 L244.87,161.67 L245.37,161.43 L245.87,161.19 L246.37,160.94 L246.87,160.68 L247.37,160.40 L247.87,160.12 L248.37,159.84 L248.87,159.54 L249.37,159.23 L249.87,158.91 L250.37,158.58 L250.87,158.24 L251.37,157.89 L251.87,157.53 L252.37,157.16 L252.87,156.78 L253.37,156.39 L253.87,155.99 L254.37,155.58 L254.87,155.16 L255.37,154.72 L255.86,154.28 L256.36,153.81 L256.86,153.34 L257.36,152.85 L257.86,152.35 L258.36,151.83 L258.86,151.30 L259.36,150.76 L259.86,150.20 L260.36,149.64 L260.86,149.05 L261.36,148.46 L261.86,147.85 L262.36,147.24 L262.86,146.61 L263.36,145.96 L263.86,145.31 L264.36,144.64 L264.86,143.97 L265.36,143.28 L265.86,142.58 L266.36,141.87 L266.86,141.15 L267.36,140.41 L267.86,139.66 L268.36,138.90 L268.85,138.13 L269.35,137.35 L269.85,136.56 L270.35,135.76 L270.85,134.95 L271.35,134.13 L271.85,133.31 L272.35,132.47 L272.85,131.63 L273.35,130.78 L273.85,129.93 L274.35,129.07 L274.85,128.21 L275.35,127.34 L275.85,126.46 L276.35,125.59 L276.85,124.71 L277.35,123.83 L277.85,122.95 L278.35,122.06 L278.85,121.18 L279.35,120.30 L279.85,119.43 L280.35,118.55 L280.85,117.68 L281.34,116.81 L281.84,115.94 L282.34,115.07 L282.84,114.21 L283.34,113.36 L283.84,112.50 L284.34,111.66 L284.84,110.81 L285.34,109.97 L285.84,109.14 L286.34,108.31 L286.84,107.48 L287.34,106.67 L287.84,105.85 L288.34,105.05 L288.84,104.25 L289.34,103.45 L289.84,102.67 L290.34,101.89 L290.84,101.12 L291.34,100.36 L291.84,99.62 L292.34,98.89 L292.84,98.17 L293.34,97.47 L293.84,96.78 L294.33,96.10 L294.83,95.43 L295.33,94.78 L295.83,94.15 L296.33,93.53 L296.83,92.92 L297.33,92.32 L297.83,91.75 L298.33,91.18 L298.83,90.63 L299.33,90.09 L299.83,89.57 L300.33,89.06 L300.83,88.56 L301.33,88.08 L301.83,87.60 L302.33,87.13 L302.83,86.68 L303.33,86.24 L303.83,85.81 L304.33,85.39 L304.83,84.98 L305.33,84.59 L305.83,84.21 L306.33,83.85 L306.82,83.49 L307.32,83.15 L307.82,82.82 L308.32,82.50 L308.82,82.19 L309.32,81.90 L309.82,81.61 L310.32,81.34 L310.82,81.08 L311.32,80.82 L311.82,80.58 L312.32,80.34 L312.82,80.12 L313.32,79.90 L313.82,79.69 L314.32,79.49 L314.82,79.29 L315.32,79.10 L315.82,78.92 L316.32,78.75 L316.82,78.59 L317.32,78.43 L317.82,78.27 L318.32,78.13 L318.82,77.99 L319.32,77.85 L319.81,77.72 L320.31,77.60 L320.81,77.48 L321.31,77.36 L321.81,77.25 L322.31,77.14 L322.81,77.04 L323.31,76.94 L323.81,76.85 L324.31,76.76 L324.81,76.67 L325.31,76.59 L325.81,76.51 L326.31,76.43 L326.81,76.36 L327.31,76.29 L327.81,76.22 L328.31,76.16 L328.81,76.10 L329.31,76.04 L329.81,75.98 L330.31,75.93 L330.81,75.87 L331.31,75.82 L331.81,75.78 L332.30,75.73 L332.80,75.69 L333.30,75.65 L333.80,75.61 L334.30,75.57 L334.80,75.53 L335.30,75.50 L335.80,75.46 L336.30,75.43 L336.80,75.40 L337.30,75.37 L337.80,75.34 L338.30,75.31 L338.80,75.29 L339.30,75.26 L339.80,75.24 L340.30,75.21 L340.80,75.19 L341.30,75.17 L341.80,75.15 L342.30,75.13 L342.80,75.11 L343.30,75.09 L343.80,75.07 L344.30,75.06 L344.80,75.04 L345.29,75.03 L345.79,75.01 L346.29,75.00 L346.79,74.98 L347.29,74.97 L347.79,74.96 L348.29,74.94 L348.79,74.93 L349.29,74.92 L349.79,74.91 L350.29,74.90 L350.79,74.89 L351.29,74.88 L351.79,74.87 L352.29,74.86 L352.79,74.85 L353.29,74.85 L353.79,74.84 L354.29,74.83 L354.79,74.82 L355.29,74.82 L355.79,74.81 L356.29,74.80 L356.79,74.80 L357.29,74.79 L357.78,74.79 L358.28,74.78 L358.78,74.78 L359.28,74.77 L359.78,74.77 L360.28,74.76 L360.78,74.76 L361.28,74.75 L361.78,74.75 L362.28,74.74 L362.78,74.74 L363.28,74.74 L363.78,74.73 L364.28,74.73 L364.78,74.73 L365.28,74.72 L365.78,74.72 L366.28,74.72 L366.78,74.72 L367.28,74.71 L367.78,74.71 L368.28,74.71 L368.78,74.71 L369.28,74.70 L369.78,74.70 L370.28,74.70 L370.77,74.70 L371.27,74.70 L371.77,74.69 L372.27,74.69 L372.77,74.69 L373.27,74.69 L373.77,74.69 L374.27,74.69 L374.77,74.68 L375.27,74.68 L375.77,74.68 L376.27,74.68 L376.77,74.68 L377.27,74.68 L377.77,74.68 L378.27,74.68 L378.77,74.67 L379.27,74.67 L379.77,74.67 L380.27,74.67 L380.77,74.67 L381.27,74.67 L381.77,74.67 L382.27,74.67 L382.77,74.67 L383.26,74.67 L383.76,74.67 L384.26,74.67 L384.76,74.67 L385.26,74.66 L385.76,74.66 L386.26,74.66 L386.76,74.66 L387.26,74.66 L387.76,74.66 L388.26,74.66 L388.76,74.66 L389.26,74.66 L389.76,74.66 L390.26,74.66 L390.76,74.66 L391.26,74.66 L391.76,74.66 L392.26,74.66 L392.76,74.66 L393.26,74.66 L393.76,74.66 L394.26,74.66 L394.76,74.66 L395.26,74.66 L395.76,74.66 L396.25,74.66 L396.75,74.66 L397.25,74.66 L397.75,74.66 L398.25,74.66 L398.75,74.65 L399.25,74.65 L399.75,74.65 L400.25,74.65 L400.75,74.65 L401.25,74.65 L401.75,74.65 L402.25,74.65 L402.75,74.65 L403.25,74.65 L403.75,74.65 L404.25,74.65 L404.75,74.65 L405.25,74.66 L405.75,74.66 L406.25,74.66 L406.75,74.66 L407.25,74.66 L407.75,74.66 L408.25,74.66 L408.74,74.66 L409.24,74.66 L409.74,74.66 L410.24,74.66 L410.74,74.66 L411.24,74.66 L411.74,74.66 L412.24,74.66 L412.74,74.66 L413.24,74.66 L413.74,74.66 L414.24,74.66 L414.74,74.66 L415.24,74.66 L415.74,74.66 L416.24,74.66 L416.74,74.66 L417.24,74.66 L417.74,74.66 L418.24,74.66 L418.74,74.67 L419.24,74.67 L419.74,74.67 L420.24,74.67 L420.74,74.67 L421.24,74.67 L421.73,74.67 L422.23,74.67 L422.73,74.67 L423.23,74.67 L423.73,74.67 L424.23,74.67 L424.73,74.68 L425.23,74.68 L425.73,74.68 L426.23,74.68 L426.73,74.68 L427.23,74.68 L427.73,74.68 L428.23,74.68 L428.73,74.69 L429.23,74.69 L429.73,74.69 L430.23,74.69 L430.73,74.69 L431.23,74.69 L431.73,74.69 L432.23,74.70 L432.73,74.70 L433.23,74.70 L433.73,74.70 L434.22,74.71 L434.72,74.71 L435.22,74.71 L435.72,74.71 L436.22,74.71 L436.72,74.72 L437.22,74.72 L437.72,74.72 L438.22,74.73 L438.72,74.73 L439.22,74.73 L439.72,74.74 L440.22,74.74 L440.72,74.74 L441.22,74.75 L441.72,74.75 L442.22,74.76 L442.72,74.76 L443.22,74.76 L443.72,74.77 L444.22,74.77 L444.72,74.78 L445.22,74.78 L445.72,74.79 L446.22,74.80 L446.72,74.80 L447.21,74.81 L447.71,74.82 L448.21,74.82 L448.71,74.83 L449.21,74.84 L449.71,74.84 L450.21,74.85 L450.71,74.86 L451.21,74.87 L451.71,74.88 L452.21,74.89 L452.71,74.90 L453.21,74.91 L453.71,74.92 L454.21,74.93 L454.71,74.94 L455.21,74.95 L455.71,74.97 L456.21,74.98 L456.71,74.99 L457.21,75.01 L457.71,75.02 L458.21,75.04 L458.71,75.05 L459.21,75.07 L459.70,75.09 L460.20,75.11 L460.70,75.13 L461.20,75.15 L461.70,75.17 L462.20,75.19 L462.70,75.21 L463.20,75.23 L463.70,75.26 L464.20,75.28 L464.70,75.31 L465.20,75.34 L465.70,75.36 L466.20,75.39 L466.70,75.42 L467.20,75.46 L467.70,75.49 L468.20,75.52 L468.70,75.56 L469.20,75.60 L469.70,75.64 L470.20,75.68 L470.70,75.72 L471.20,75.76 L471.70,75.81 L472.20,75.86 L472.69,75.91 L473.19,75.96 L473.69,76.01 L474.19,76.07 L474.69,76.13 L475.19,76.19 L475.69,76.25 L476.19,76.31 L476.69,76.38 L477.19,76.45 L477.69,76.53 L478.19,76.60 L478.69,76.68 L479.19,76.77 L479.69,76.85 L480.19,76.94 L480.69,77.03 L481.19,77.13 L481.69,77.23 L482.19,77.33 L482.69,77.44 L483.19,77.56 L483.69,77.67 L484.19,77.79 L484.69,77.92 L485.18,78.05 L485.68,78.19 L486.18,78.33 L486.68,78.47 L487.18,78.63 L487.68,78.78 L488.18,78.95 L488.68,79.12 L489.18,79.29 L489.68,79.48 L490.18,79.67 L490.68,79.86 L491.18,80.07 L491.68,80.28 L492.18,80.50 L492.68,80.72 L493.18,80.96 L493.68,81.20 L494.18,81.45 L494.68,81.72 L495.18,81.99 L495.68,82.26 L496.18,82.55 L496.68,82.85 L497.18,83.16 L497.68,83.48 L498.17,83.81 L498.67,84.15 L499.17,84.50 L499.67,84.87 L500.17,85.24 L500.67,85.63 L501.17,86.03 L501.67,86.44 L502.17,86.86 L502.67,87.30 L503.17,87.74 L503.67,88.21 L504.17,88.68 L504.67,89.17 L505.17,89.67 L505.67,90.19 L506.17,90.72 L506.67,91.27 L507.17,91.82 L507.67,92.40 L508.17,92.98 L508.67,93.59 L509.17,94.20 L509.67,94.83 L510.17,95.47 L510.66,96.13 L511.16,96.81 L511.66,97.49 L512.16,98.19 L512.66,98.91 L513.16,99.63 L513.66,100.37 L514.16,101.13 L514.66,101.89 L515.16,102.67 L515.66,103.46 L516.16,104.27 L516.66,105.08 L517.16,105.90 L517.66,106.74 L518.16,107.58 L518.66,108.44 L519.16,109.30 L519.66,110.17 L520.16,111.05 L520.66,111.93 L521.16,112.83 L521.66,113.72 L522.16,114.63 L522.66,115.53 L523.16,116.44 L523.65,117.35 L524.15,118.27 L524.65,119.19 L525.15,120.10 L525.65,121.02 L526.15,121.94 L526.65,122.85 L527.15,123.76 L527.65,124.67 L528.15,125.58 L528.65,126.48 L529.15,127.37 L529.65,128.26 L530.15,129.15 L530.65,130.02 L531.15,130.90 L531.65,131.76 L532.15,132.62 L532.65,133.47 L533.15,134.31 L533.65,135.14 L534.15,135.96 L534.65,136.77 L535.15,137.57 L535.65,138.36 L536.14,139.14 L536.64,139.90 L537.14,140.66 L537.64,141.40 L538.14,142.12 L538.64,142.84 L539.14,143.54 L539.64,144.23 L540.14,144.90 L540.64,145.56 L541.14,146.21 L541.64,146.84 L542.14,147.45 L542.64,148.06 L543.14,148.64 L543.64,149.22 L544.14,149.78 L544.64,150.32 L545.14,150.85 L545.64,151.37 L546.14,151.87 L546.64,152.37 L547.14,152.84 L547.64,153.31 L548.14,153.76 L548.64,154.20 L549.13,154.63 L549.63,155.04 L550.13,155.44 L550.63,155.83 L551.13,156.21 L551.63,156.58 L552.13,156.94 L552.63,157.29 L553.13,157.63 L553.63,157.95 L554.13,158.27 L554.63,158.58 L555.13,158.87 L555.63,159.16 L556.13,159.44 L556.63,159.71 L557.13,159.98 L557.63,160.23 L558.13,160.48 L558.63,160.72 L559.13,160.95 L559.63,161.17 L560.13,161.39 L560.63,161.60 L561.13,161.80 L561.62,162.00 L562.12,162.19 L562.62,162.37 L563.12,162.55 L563.62,162.73 L564.12,162.90 L564.62,163.06 L565.12,163.22 L565.62,163.37 L566.12,163.52 L566.62,163.66 L567.12,163.80 L567.62,163.94 L568.12,164.07 L568.62,164.19 L569.12,164.31 L569.62,164.43 L570.12,164.54 L570.62,164.65 L571.12,164.76 L571.62,164.86 L572.12,164.96 L572.62,165.06 L573.12,165.15 L573.62,165.24 L574.12,165.32 L574.61,165.41 L575.11,165.48 L575.61,165.56 L576.11,165.63 L576.61,165.70 L577.11,165.77 L577.61,165.84 L578.11,165.90 L578.61,165.96 L579.11,166.01 L579.61,166.07 L580.11,166.12 L580.61,166.17 L581.11,166.21 L581.61,166.26 L582.11,166.30 L582.61,166.33 L583.11,166.37 L583.61,166.41 L584.11,166.44 L584.61,166.47 L585.11,166.50 L585.61,166.52 L586.11,166.55 L586.61,166.57 L587.10,166.59 L587.60,166.61 L588.10,166.63 L588.60,166.65 L589.10,166.67 L589.60,166.69 L590.10,166.70 L590.60,166.72 L591.10,166.74 L591.60,166.75 L592.10,166.77 L592.60,166.78 L593.10,166.79 L593.60,166.81 L594.10,166.82 L594.60,166.84 L595.10,166.85 L595.60,166.87 L596.10,166.88 L596.60,166.90 L597.10,166.92 L597.60,166.93 L598.10,166.95 L598.60,166.97 L599.10,166.99 L599.60,167.02 L600.09,167.04 L600.59,167.06 L601.09,167.09 L601.59,167.11 L602.09,167.14 L602.59,167.17 L603.09,167.19 L603.59,167.22 L604.09,167.25 L604.59,167.28 L605.09,167.31 L605.59,167.34 L606.09,167.37 L606.59,167.40 L607.09,167.44 L607.59,167.48 L608.09,167.51 L608.59,167.55 L609.09,167.59 L609.59,167.64 L610.09,167.68 L610.59,167.73 L611.09,167.78 L611.59,167.83 L612.09,167.89 L612.58,167.94 L613.08,168.00 L613.58,168.07 L614.08,168.13 L614.58,168.20 L615.08,168.28 L615.58,168.35 L616.08,168.43 L616.58,168.52 L617.08,168.60 L617.58,168.69 L618.08,168.79 L618.58,168.89 L619.08,168.99 L619.58,169.10 L620.08,169.22 L620.58,169.34 L621.08,169.47 L621.58,169.60 L622.08,169.75 L622.58,169.90 L623.08,170.06 L623.58,170.23 L624.08,170.41 L624.58,170.61 L625.08,170.81 L625.57,171.03 L626.07,171.25 L626.57,171.50 L627.07,171.75 L627.57,172.02 L628.07,172.31 L628.57,172.62 L629.07,172.94 L629.57,173.28 L630.07,173.65 L630.57,174.03 L631.07,174.43 L631.57,174.86 L632.07,175.31 L632.57,175.78 L633.07,176.28 L633.57,176.81 L634.07,177.37 L634.57,177.96 L635.07,178.58 L635.57,179.23 L636.07,179.92 L636.57,180.65 L637.07,181.42 L637.57,182.23 L638.06,183.09 L638.56,183.99 L639.06,184.93 L639.56,185.93 L640.06,186.98 L640.56,188.08 L641.06,189.24 L641.56,190.45 L642.06,191.72 L642.56,193.05 L643.06,194.44 L643.56,195.90 L644.06,197.43 L644.56,199.02 L645.06,200.69 L645.56,202.42 L646.06,204.24 L646.56,206.13 L647.06,208.10 L647.56,210.15 L648.06,212.28 L648.56,214.49 L649.06,216.79 L649.56,219.18 L650.06,221.65 L650.56,224.21 L651.05,226.86 L651.55,229.59 L652.05,232.42 L652.55,235.33 L653.05,238.33 L653.55,241.42 L654.05,244.59 L654.55,247.84 L655.05,251.18 L655.55,254.60 L656.05,258.10 L656.55,261.67 L657.05,265.32 L657.55,269.03 L658.05,272.81 L658.55,276.65 L659.05,280.54 L659.55,284.49 L660.05,288.49 L660.55,292.53 L661.05,296.61 L661.55,300.72 L662.05,304.86 L662.55,309.03 L663.05,313.21 L663.54,317.40 L664.04,321.60 L664.54,325.80 L665.04,329.99 L665.54,334.17 L666.04,338.34 L666.54,342.49 L667.04,346.62 L667.54,350.71 L668.04,354.77 L668.54,358.79 L669.04,362.77 L669.54,366.71 L670.04,370.59 L670.54,374.42 L671.04,378.19 L671.54,381.91 L672.04,385.56 L672.54,389.15 L673.04,392.68 L673.54,396.13 L674.04,399.52 L674.54,402.84 L675.04,406.09 L675.54,409.26 L676.04,412.36 L676.53,415.39 L677.03,418.35 L677.53,421.23 L678.03,424.04 L678.53,426.78 L679.03,429.44 L679.53,432.04 L680.03,434.56 L680.53,437.01 L681.03,439.39 L681.53,441.71 L682.03,443.95 L682.53,446.13 L683.03,448.25 L683.53,450.30 L684.03,452.29 L684.53,454.21 L685.03,456.08 L685.53,457.88 L686.03,459.63 L686.53,461.33 L687.03,462.97 L687.53,464.55 L688.03,466.09 L688.53,467.57 L689.02,469.00 L689.52,470.39 L690.02,471.73 L690.52,473.02 L691.02,474.27 L691.52,475.48 L692.02,476.65 L692.52,477.77 L693.02,478.86 L693.52,479.91 L694.02,480.92 L694.52,481.90 L695.02,482.85 L695.52,483.76 L696.02,484.64 L696.52,485.49 L697.02,486.30 L697.52,487.09 L698.02,487.85 L698.52,488.59 L699.02,489.30 L699.52,489.98 L700.02,490.64 L700.52,491.27 L701.02,491.89 L701.52,492.48 L702.01,493.04 L702.51,493.59 L703.01,494.12 L703.51,494.63 L704.01,495.12 L704.51,495.60 L705.01,496.05 L705.51,496.49 L706.01,496.92 L706.51,497.33 L707.01,497.72 L707.51,498.10 L708.01,498.47 L708.51,498.82 L709.01,499.16 L709.51,499.49 L710.01,499.80 L710.51,500.11 L711.01,500.40 L711.51,500.68 L712.01,500.95 L712.51,501.21 L713.01,501.47 L713.51,501.71 L714.01,501.94 L714.50,502.17 L715.00,502.39 L715.50,502.60 L716.00,502.80 L716.50,502.99 L717.00,503.18 L717.50,503.36 L718.00,503.53 L718.50,503.70 L719.00,503.86 L719.50,504.02 L720.00,504.17 L720.50,504.31 L721.00,504.45 L721.50,504.59 L722.00,504.72 L722.50,504.84 L723.00,504.96 L723.50,505.07 L724.00,505.19 L724.50,505.29 L725.00,505.40 L725.50,505.50 L726.00,505.59 L726.50,505.68 L727.00,505.77 L727.49,505.86 L727.99,505.94 L728.49,506.02 L728.99,506.10 L729.49,506.17 L729.99,506.24 L730.49,506.31 L730.99,506.37 L731.49,506.44 L731.99,506.50 L732.49,506.56 L732.99,506.61 L733.49,506.67 L733.99,506.72 L734.49,506.77 L734.99,506.82 L735.49,506.87 L735.99,506.91 L736.49,506.96 L736.99,507.00 L737.49,507.04 L737.99,507.08 L738.49,507.12 L738.99,507.15 L739.49,507.19 L739.98,507.22 L740.48,507.25 L740.98,507.28 L741.48,507.31 L741.98,507.34 L742.48,507.37 L742.98,507.40 L743.48,507.42 L743.98,507.45 L744.48,507.47 L744.98,507.49 L745.48,507.52 L745.98,507.54 L746.48,507.56 L746.98,507.58 L747.48,507.60 L747.98,507.62 L748.48,507.63 L748.98,507.65 L749.48,507.67 L749.98,507.68 L750.48,507.70 L750.98,507.71 L751.48,507.73 L751.98,507.74 L752.48,507.75 L752.97,507.77 L753.47,507.78 L753.97,507.79 L754.47,507.80 L754.97,507.81 L755.47,507.82 L755.97,507.83 L756.47,507.84 L756.97,507.85 L757.47,507.86 L757.97,507.87 L758.47,507.88 L758.97,507.89 L759.47,507.90 L759.97,507.90 L760.47,507.91 L760.97,507.92 L761.47,507.92 L761.97,507.93 L762.47,507.94 L762.97,507.94 L763.47,507.95 L763.97,507.95 L764.47,507.96 L764.97,507.96 L765.46,507.97 L765.96,507.97 L766.46,507.98 L766.96,507.98 L767.46,507.99 L767.96,507.99 L768.46,508.00 L768.96,508.00 L769.46,508.00 L769.96,508.01 L770.46,508.01 L770.96,508.01 L771.46,508.02 L771.96,508.02 L772.46,508.02 L772.96,508.03 L773.46,508.03 L773.96,508.03 L774.46,508.03 L774.96,508.04 L775.46,508.04 L775.96,508.04 L776.46,508.04 L776.96,508.04 L777.46,508.05 L777.96,508.05 L778.45,508.05 L778.95,508.05 L779.45,508.05 L779.95,508.06 L780.45,508.06 L780.95,508.06 L781.45,508.06 L781.95,508.06 L782.45,508.06 L782.95,508.06 L783.45,508.07 L783.95,508.07 L784.45,508.07"/>
</g>
<g shape-rendering="crispEdges">
<rect x="4" y="508" width="796" height="1" fill="#666" fill-opacity="0.57"/>
<rect x="402" y="40.5" width="1" height="492" fill="#666" fill-opacity="0.57"/>
</g>
<g stroke="#666" stroke-width="0.8" shape-rendering="geometricPrecision"><line x1="20.41" x2="20.41" y1="500.1" y2="508.5"/>
<line x1="45.86" x2="45.86" y1="503.0" y2="508.5"/>
<line x1="71.30" x2="71.30" y1="503.0" y2="508.5"/>
<line x1="96.75" x2="96.75" y1="503.0" y2="508.5"/>
<line x1="122.19" x2="122.19" y1="503.0" y2="508.5"/>
<line x1="147.64" x2="147.64" y1="500.1" y2="508.5"/>
<line x1="173.09" x2="173.09" y1="503.0" y2="508.5"/>
<line x1="198.53" x2="198.53" y1="503.0" y2="508.5"/>
<line x1="223.98" x2="223.98" y1="503.0" y2="508.5"/>
<line x1="249.42" x2="249.42" y1="503.0" y2="508.5"/>
<line x1="274.87" x2="274.87" y1="500.1" y2="508.5"/>
<line x1="300.32" x2="300.32" y1="503.0" y2="508.5"/>
<line x1="325.76" x2="325.76" y1="503.0" y2="508.5"/>
<line x1="351.21" x2="351.21" y1="503.0" y2="508.5"/>
<line x1="376.65" x2="376.65" y1="503.0" y2="508.5"/>
<line x1="427.59" x2="427.59" y1="503.0" y2="508.5"/>
<line x1="453.09" x2="453.09" y1="503.0" y2="508.5"/>
<line x1="478.58" x2="478.58" y1="503.0" y2="508.5"/>
<line x1="504.08" x2="504.08" y1="503.0" y2="508.5"/>
<line x1="529.57" x2="529.57" y1="500.1" y2="508.5"/>
<line x1="555.06" x2="555.06" y1="503.0" y2="508.5"/>
<line x1="580.56" x2="580.56" y1="503.0" y2="508.5"/>
<line x1="606.05" x2="606.05" y1="503.0" y2="508.5"/>
<line x1="631.55" x2="631.55" y1="503.0" y2="508.5"/>
<line x1="657.04" x2="657.04" y1="500.1" y2="508.5"/>
<line x1="682.53" x2="682.53" y1="503.0" y2="508.5"/>
<line x1="708.03" x2="708.03" y1="503.0" y2="508.5"/>
<line x1="733.52" x2="733.52" y1="503.0" y2="508.5"/>
<line x1="759.02" x2="759.02" y1="503.0" y2="508.5"/>
<line x1="784.51" x2="784.51" y1="500.1" y2="508.5"/>
<line y1="521.47" y2="521.47" x1="402.5" x2="407.0"/>
<line y1="507.90" y2="507.90" x1="402.5" x2="410.0"/>
<line y1="495.13" y2="495.13" x1="402.5" x2="407.0"/>
<line y1="481.97" y2="481.97" x1="402.5" x2="407.0"/>
<line y1="468.80" y2="468.80" x1="402.5" x2="407.0"/>
<line y1="455.64" y2="455.64" x1="402.5" x2="407.0"/>
<line y1="442.47" y2="442.47" x1="402.5" x2="410.0"/>
<line y1="429.30" y2="429.30" x1="402.5" x2="407.0"/>
<line y1="416.14" y2="416.14" x1="402.5" x2="407.0"/>
<line y1="402.97" y2="402.97" x1="402.5" x2="407.0"/>
<line y1="389.81" y2="389.81" x1="402.5" x2="407.0"/>
<line y1="376.64" y2="376.64" x1="402.5" x2="410.0"/>
<line y1="363.47" y2="363.47" x1="402.5" x2="407.0"/>
<line y1="350.31" y2="350.31" x1="402.5" x2="407.0"/>
<line y1="337.14" y2="337.14" x1="402.5" x2="407.0"/>
<line y1="323.98" y2="323.98" x1="402.5" x2="407.0"/>
<line y1="310.81" y2="310.81" x1="402.5" x2="410.0"/>
<line y1="297.64" y2="297.64" x1="402.5" x2="407.0"/>
<line y1="284.48" y2="284.48" x1="402.5" x2="407.0"/>
<line y1="271.31" y2="271.31" x1="402.5" x2="407.0"/>
<line y1="258.15" y2="258.15" x1="402.5" x2="407.0"/>
<line y1="244.98" y2="244.98" x1="402.5" x2="410.0"/>
<line y1="231.81" y2="231.81" x1="402.5" x2="407.0"/>
<line y1="218.65" y2="218.65" x1="402.5" x2="407.0"/>
<line y1="205.48" y2="205.48" x1="402.5" x2="407.0"/>
<line y1="192.32" y2="192.32" x1="402.5" x2="407.0"/>
<line y1="179.15" y2="179.15" x1="402.5" x2="410.0"/>
<line y1="165.98" y2="165.98" x1="402.5" x2="407.0"/>
<line y1="152.82" y2="152.82" x1="402.5" x2="407.0"/>
<line y1="139.65" y2="139.65" x1="402.5" x2="407.0"/>
<line y1="126.49" y2="126.49" x1="402.5" x2="407.0"/>
<line y1="113.32" y2="113.32" x1="402.5" x2="410.0"/>
<line y1="100.15" y2="100.15" x1="402.5" x2="407.0"/>
<line y1="86.99" y2="86.99" x1="402.5" x2="407.0"/>
<line y1="73.82" y2="73.82" x1="402.5" x2="407.0"/>
<line y1="60.66" y2="60.66" x1="402.5" x2="407.0"/>
<line y1="47.49" y2="47.49" x1="402.5" x2="410.0"/></g>
<g opacity="0.999">
<text transform="translate(0.54,537.20) scale(1.0,1.07)" x="0.00 15.15 27.38" y="1.87 0.00 0.00">−30</text>
<text transform="translate(127.89,537.20) scale(1.0,1.07)" x="0.00 15.15 27.38" y="1.87 0.00 0.00">−20</text>
<text transform="translate(255.24,537.20) scale(1.0,1.07)" x="0.00 15.15 27.38" y="1.87 0.00 0.00" clip-path="url(#c0)">−10</text>
<text transform="translate(517.51,537.20) scale(1.0,1.07)" x="0.00 12.24" y="0.00 0.00" clip-path="url(#c1)">10</text>
<text transform="translate(644.86,537.20) scale(1.0,1.07)" x="0.00 12.24" y="0.00 0.00">20</text>
<text transform="translate(772.21,537.20) scale(1.0,1.07)" x="0.00 12.24" y="0.00 0.00">30</text>
<text transform="translate(351.01,450.57) scale(1.02,1.07)" x="0.00 12.54 18.95 31.48" y="0.00 0.00 0.00 0.00">0.05</text>
<text transform="translate(351.01,384.74) scale(1.02,1.07)" x="0.00 12.54 18.95 31.48" y="0.00 0.00 0.00 0.00" clip-path="url(#c2)">0.10</text>
<text transform="translate(351.01,318.91) scale(1.02,1.07)" x="0.00 12.54 18.95 31.48" y="0.00 0.00 0.00 0.00" clip-path="url(#c3)">0.15</text>
<text transform="translate(351.01,253.08) scale(1.02,1.07)" x="0.00 12.54 18.95 31.48" y="0.00 0.00 0.00 0.00">0.20</text>
<text transform="translate(351.01,187.25) scale(1.02,1.07)" x="0.00 12.54 18.95 31.48" y="0.00 0.00 0.00 0.00">0.25</text>
<text transform="translate(351.01,121.42) scale(1.02,1.07)" x="0.00 12.54 18.95 31.48" y="0.00 0.00 0.00 0.00">0.30</text>
<text transform="translate(351.01,55.59) scale(1.02,1.07)" x="0.00 12.54 18.95 31.48" y="0.00 0.00 0.00 0.00">0.35</text>
<text class="it" transform="translate(818.9,516) scale(1.1,1)">r</text>
<text class="it" transform="translate(384.3,22.0) scale(1,1.03)" style="font-size:24px">ξ</text>
<text transform="translate(395.8,21.6) scale(1,1.04)">(</text>
<text class="it" transform="translate(404.0,21.5) scale(1.08,1)">r</text>
<text transform="translate(412.9,21.6) scale(1,1.04)">)</text>
</g>
</svg>
</body></html>
